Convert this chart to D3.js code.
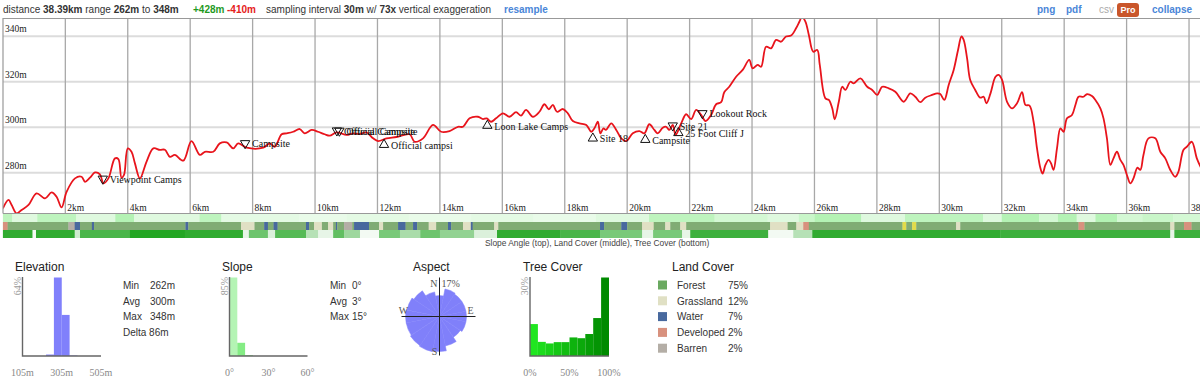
<!DOCTYPE html>
<html>
<head>
<meta charset="utf-8">
<script src="https://cdn.jsdelivr.net/npm/d3@7"></script>
<style>
body { margin: 0; background: #fff; }
svg { display: block; font-family: "Liberation Sans", Arial, Helvetica, sans-serif; }
.serif { font-family: "Liberation Serif", "Times New Roman", serif; }
</style>
</head>
<body>
<svg id="chart" width="1200" height="381"></svg>
<script>
// elevation profile (km, m)
const profileKm = [0, 0.18, 0.28, 0.44, 0.6, 0.82, 1.08, 1.35, 1.56, 1.72, 1.88, 2.04, 2.31, 2.52, 2.63, 2.79, 2.95, 3.11, 3.22, 3.38,
  3.59, 3.7, 3.8, 3.88, 4.0, 4.12, 4.23, 4.39, 4.6, 4.82, 5.03, 5.19, 5.35, 5.51, 5.78, 6.04, 6.31, 6.47, 6.74, 6.95,
  7.17, 7.38, 7.54, 7.81, 8.34, 8.55, 8.71, 8.93, 9.09, 9.3, 9.51, 9.67, 9.89, 10.1, 10.31, 10.47, 10.69, 11.01, 11.22, 11.43,
  11.65, 11.86, 12.02, 12.29, 12.61, 13.03, 13.19, 13.46, 13.78, 14.04, 14.31, 14.58, 14.74, 14.95, 15.22, 15.38, 15.5, 15.64, 15.8, 16.02,
  16.23, 16.44, 16.6, 16.76, 16.98, 17.19, 17.35, 17.49, 17.62, 17.75, 17.94, 18.1, 18.26, 18.47, 18.69, 18.85, 18.95, 19.06, 19.14, 19.24,
  19.32, 19.49, 19.65, 19.81, 19.97, 20.18, 20.39, 20.55, 20.71, 20.87, 20.98, 21.14, 21.25, 21.35, 21.46, 21.55, 21.73, 21.89, 22.05, 22.21,
  22.37, 22.51, 22.69, 22.85, 23.01, 23.11, 23.27, 23.49, 23.7, 23.91, 24.02, 24.18, 24.29, 24.45, 24.61, 24.77, 24.93, 25.09, 25.25, 25.41,
  25.52, 25.6, 25.71, 25.82, 25.96, 26.09, 26.17, 26.35, 26.46, 26.57, 26.65, 26.78, 26.89, 26.99, 27.15, 27.26, 27.47, 27.69, 27.85, 28.01,
  28.17, 28.38, 28.59, 28.86, 29.07, 29.23, 29.39, 29.55, 29.77, 29.93, 30.03, 30.16, 30.3, 30.46, 30.6, 30.71, 30.78, 30.89, 30.99, 31.15,
  31.31, 31.42, 31.51, 31.64, 31.8, 31.9, 32.01, 32.17, 32.33, 32.49, 32.65, 32.76, 32.89, 33.02, 33.13, 33.24, 33.31, 33.4, 33.5, 33.58,
  33.66, 33.77, 33.88, 33.98, 34.09, 34.25, 34.36, 34.46, 34.62, 34.73, 34.89, 35.0, 35.16, 35.26, 35.37, 35.48, 35.58, 35.69, 35.8, 35.9,
  36.01, 36.12, 36.22, 36.35, 36.44, 36.54, 36.7, 36.92, 37.08, 37.24, 37.4, 37.56, 37.66, 37.82, 37.93, 38.09, 38.25, 38.39];
const profileElev = [264.3, 268, 265.8, 262.1, 263.6, 265.8, 270.9, 268.7, 271.3, 269.4, 264.7, 271.6, 277.5, 278.2, 276, 277.8, 280.1, 279.3, 275.3, 277.5,
  286.3, 286, 277.8, 279, 290.7, 289.2, 284.1, 277.5, 284.8, 290.7, 290, 290.1, 287, 287.8, 285.3, 293.9, 287.8, 289.2, 289.2, 292.9,
  293.3, 290.7, 292.9, 291, 291, 292.9, 291.4, 296.9, 297.3, 298, 299.2, 297.3, 298.8, 298, 296.9, 296.3, 297.7, 296.6, 297.3, 297,
  297.7, 295.1, 293.9, 295.1, 295.7, 296.9, 293.6, 295.1, 301, 298, 298.3, 300.2, 300.2, 303.9, 304.6, 303.6, 303.9, 302.4, 303.9, 306.1,
  304.6, 306.6, 305.1, 307.6, 304.6, 306.8, 310.1, 307.9, 309.8, 306.8, 308, 306.1, 302.7, 301.7, 301, 298, 299.5, 302.4, 297.3, 299.5,
  298.8, 301.7, 298.8, 295.1, 293.9, 297.3, 298.3, 297.3, 301.3, 298.8, 297.3, 299.8, 300.2, 298.8, 301, 296.6, 301.7, 305.7, 303.6, 307.6,
  305.4, 302.7, 305.4, 310.1, 311, 315.4, 317.8, 322.2, 325.2, 329.6, 325.9, 327.4, 326.6, 335.4, 334.7, 338.4, 337.6, 339.9, 340.3, 343.5,
  346.5, 348.6, 346.5, 340.6, 333.2, 334, 327.4, 312.7, 312, 308.3, 303.5, 311.2, 317.8, 316.4, 320, 319.3, 321.5, 317.8, 316.4, 314.2,
  317.8, 317.1, 315.6, 311.2, 314.9, 313.4, 311, 313, 314.2, 314.9, 314.6, 312, 318.6, 325.2, 334, 339.9, 338.4, 330.3, 320.8, 316.4,
  313, 313.4, 310.5, 314.9, 322.2, 323, 320.8, 311.2, 308.3, 310.5, 315.4, 309.8, 309.5, 302.4, 290.7, 281.9, 279.6, 283.4, 285.6, 284.1,
  281.2, 290.7, 299.5, 298, 303.9, 305.4, 309.8, 313.4, 313.4, 314.5, 313.7, 312, 308.3, 303.9, 295.1, 283.4, 286.3, 289.2, 285.6, 283.4,
  279, 275.3, 277.5, 282.2, 281.2, 287.8, 295.1, 295.1, 289.2, 286.3, 281.2, 278.2, 280.4, 290, 291.4, 293.6, 286.3, 282];

// waypoints along the route
const waypointNames = ["Viewpoint Camps", "Campsite", "Official Campsite", "Official Campsite", "Official campsi", "Loon Lake Camps",
  "Site 18", "Campsite", "Site 21", "25 Foot Cliff J", "Lookout Rock"];
const waypointKm = [3.2, 7.76, 10.7, 10.78, 12.21, 15.52, 18.9, 20.58, 21.46, 21.64, 22.41];
const waypointElev = [277.3, 292.9, 298.5, 298.4, 292.3, 300.7, 295.1, 294.5, 300.7, 297.5, 306.1];
const waypointDir = ["down", "down", "down", "down", "up", "up", "up", "up", "down", "up", "down"];

// strips: [segment end km, value]
const slopeStrip = [[0.3, 5], [1.1, 2], [2.35, 5], [3.6, 2], [4.2, 6], [6.3, 2], [7.0, 5], [9.5, 1.5], [11, 1], [13, 1.5], [15, 1], [17, 1.5],
  [19, 1], [20.7, 2], [22.8, 5], [24.5, 3], [25.5, 2], [26, 4], [27.5, 6], [28.9, 2], [31.4, 5], [32, 2], [33.2, 6], [33.8, 3], [34.4, 6],
  [35, 2], [35.7, 6], [36.5, 3], [37.5, 4], [38.39, 3]];
const landStrip = [[0.15, 'D'], [2.1, 'F'], [2.3, 'B'], [2.47, 'W'], [2.85, 'F'], [2.92, 'W'], [5.85, 'F'], [5.94, 'W'], [7.63, 'F'], [8.06, 'G'],
  [8.37, 'F'], [8.49, 'W'], [8.67, 'F'], [8.8, 'W'], [9.71, 'F'], [9.81, 'W'], [9.97, 'F'], [10.22, 'G'], [10.42, 'F'], [10.58, 'G'], [10.67, 'F'],
  [10.71, 'W'], [10.93, 'F'], [11.19, 'B'], [11.25, 'F'], [11.73, 'W'], [12.05, 'F'], [12.18, 'G'], [12.66, 'F'], [12.9, 'W'], [13.14, 'F'],
  [13.27, 'W'], [13.64, 'F'], [13.88, 'G'], [14.26, 'F'], [14.36, 'W'], [14.74, 'F'], [14.99, 'G'], [15.05, 'W'], [15.74, 'F'], [15.87, 'G'],
  [19.13, 'F'], [19.26, 'W'], [19.81, 'F'], [20.0, 'W'], [20.48, 'F'], [20.85, 'G'], [21.22, 'F'], [21.38, 'G'], [21.7, 'F'], [21.89, 'G'],
  [24.58, 'F'], [25.14, 'G'], [25.42, 'F'], [25.64, 'G'], [25.82, 'D'], [28.82, 'F'], [28.94, 'S'], [29.13, 'F'], [29.26, 'S'], [30.54, 'F'],
  [30.67, 'G'], [34.46, 'F'], [34.65, 'D'], [37.4, 'F'], [37.53, 'G'], [37.84, 'F'], [38.08, 'D'], [38.39, 'F']];
const treeStrip = [[0.95, 85], [1.06, 5], [2.3, 85], [2.47, 20], [4.07, 75], [5.83, 90], [7.69, 85], [7.88, 10], [8.49, 60], [8.72, 15],
  [9.71, 70], [10.1, 30], [10.58, 10], [10.93, 65], [11.44, 40], [12.05, 5], [12.72, 55], [13.37, 35], [14.0, 60], [15.1, 45], [15.83, 15],
  [17.85, 85], [19.13, 75], [20.48, 55], [20.83, 10], [21.76, 55], [22.02, 10], [24.52, 80], [25.32, 5], [25.93, 30], [31.96, 85],
  [37.4, 80], [37.53, 10], [38.39, 80]];

// summary histograms
const elevBins = [225, 265, 305, 345, 385];
const elevPct = [1.2, 64, 33.5, 0.4];
const elevStatLabels = ["Min", "Avg", "Max"];
const elevStatValues = ["262m", "300m", "348m"];
const slopeBins = [0, 6, 12, 18];
const slopePct = [85, 14.3, 0.7];
const slopeStatLabels = ["Min", "Avg", "Max"];
const slopeStatValues = ["0°", "3°", "15°"];
const aspectDirs = ["N", "NNE", "NE", "ENE", "E", "ESE", "SE", "SSE", "S", "SSW", "SW", "WSW", "W", "WNW", "NW", "NNW"];
const aspectPct = [9.6, 12.9, 12.4, 12.4, 12.4, 12.4, 11.5, 13.8, 16.1, 16.5, 16.1, 15.6, 15.6, 15.2, 14.2, 11.5];
const treeBins = [0, 10, 20, 30, 40, 50, 60, 70, 80, 90, 100];
const treePct = [12.2, 5.4, 4.8, 5.3, 5.3, 7.1, 6.8, 8.4, 14.5, 30];
const landNames = ["Forest", "Grassland", "Water", "Developed", "Barren"];
const landPct = ["75%", "12%", "7%", "2%", "2%"];
const landKeys = ["F", "G", "W", "D", "B"];

const landColor = { F: "#6aa960", G: "#e0e0c4", W: "#48699e", D: "#d8917e", B: "#b4aea6", S: "#e2dc4a" };
const landStripColor = Object.assign({}, landColor, { F: "#80ac74" });

const svg = d3.select("#chart");

// ---------- header ----------
const head = svg.append("text").attr("x", 3).attr("y", 13).style("font-size", "10px").attr("fill", "#333");
[["distance ", 0], ["38.39km", 1], [" range ", 0], ["262m", 1], [" to ", 0], ["348m", 1]].forEach(p => {
  head.append("tspan").attr("font-weight", p[1] ? "bold" : null).text(p[0]);
});
svg.append("text").attr("x", 193).attr("y", 13).style("font-size", "10px").attr("font-weight", "bold").attr("fill", "#1f9a1f").text("+428m");
svg.append("text").attr("x", 227).attr("y", 13).style("font-size", "10px").attr("font-weight", "bold").attr("fill", "#e5201a").text("-410m");
const head2 = svg.append("text").attr("x", 266).attr("y", 13).style("font-size", "10px").attr("fill", "#333");
[["sampling interval ", 0], ["30m", 1], [" w/ ", 0], ["73x", 1], [" vertical exaggeration", 0]].forEach(p => {
  head2.append("tspan").attr("font-weight", p[1] ? "bold" : null).text(p[0]);
});
svg.append("text").attr("x", 504).attr("y", 13).style("font-size", "10px").attr("font-weight", "bold").attr("fill", "#4a86d8").text("resample");
svg.append("text").attr("x", 1037).attr("y", 13).style("font-size", "10px").attr("font-weight", "bold").attr("fill", "#4a86d8").text("png");
svg.append("text").attr("x", 1066).attr("y", 13).style("font-size", "10px").attr("font-weight", "bold").attr("fill", "#4a86d8").text("pdf");
svg.append("text").attr("x", 1099).attr("y", 13).style("font-size", "10px").attr("fill", "#aaa").text("csv");
svg.append("rect").attr("x", 1117).attr("y", 3).attr("width", 22).attr("height", 14).attr("rx", 3).attr("fill", "#c9562b");
svg.append("text").attr("x", 1128).attr("y", 13).attr("text-anchor", "middle").style("font-size", "9px").attr("font-weight", "bold").attr("fill", "#fff").text("Pro");
svg.append("text").attr("x", 1152).attr("y", 13).style("font-size", "10px").attr("font-weight", "bold").attr("fill", "#4a86d8").text("collapse");

// ---------- profile ----------
const plotTop = 18.5, plotBottom = 213.5;
const x = d3.scaleLinear().domain([0, 38.39]).range([2.9, 1201.2]);
const y = d3.scaleLinear().domain([262, 348]).range([213.6, 18.1]);

svg.append("clipPath").attr("id", "plot").append("rect")
  .attr("x", 3).attr("y", plotTop).attr("width", 1198).attr("height", plotBottom - plotTop);

const grid = svg.append("g");
grid.selectAll(".hg").data(y.ticks(5)).join("line")
  .attr("x1", 3).attr("x2", 1200).attr("y1", d => y(d)).attr("y2", d => y(d))
  .attr("stroke", "#dcdcdc").attr("stroke-width", 2);
grid.selectAll(".vg").data(x.ticks(20).filter(d => d > 0)).join("line")
  .attr("x1", d => x(d)).attr("x2", d => x(d)).attr("y1", plotTop).attr("y2", plotBottom)
  .attr("stroke", "#a8a8a8").attr("stroke-width", 1.3);

svg.append("g").attr("class", "serif").selectAll("text").data(y.ticks(5)).join("text")
  .attr("x", 5).attr("y", d => y(d) - 4).style("font-size", "9.5px").attr("fill", "#222")
  .text(d => d + "m");
svg.append("g").attr("class", "serif").selectAll("text").data(x.ticks(20).filter(d => d > 0)).join("text")
  .attr("x", d => x(d) + 2).attr("y", 210.5).style("font-size", "9.5px").attr("fill", "#222")
  .text(d => d + "km");

const line = d3.line()
  .x(i => x(profileKm[i]))
  .y(i => y(profileElev[i]))
  .curve(d3.curveCatmullRom);
svg.append("path")
  .datum(d3.range(profileKm.length))
  .attr("clip-path", "url(#plot)")
  .attr("d", line)
  .attr("fill", "none").attr("stroke", "#e8141c").attr("stroke-width", 1.8);

// waypoints
const wp = svg.append("g").attr("class", "serif");
const tri = d3.symbol(d3.symbolTriangle, 38);
waypointNames.forEach((name, i) => {
  const px = x(waypointKm[i]), py = y(waypointElev[i]);
  wp.append("path").attr("d", tri())
    .attr("transform", `translate(${px},${py}) rotate(${waypointDir[i] === "down" ? 180 : 0})`)
    .attr("fill", "none").attr("stroke", "#111").attr("stroke-width", 1);
  wp.append("text").attr("x", px + 7).attr("y", py + 4).style("font-size", "10px").attr("fill", "#111").text(name);
});

// frame
svg.append("path").attr("d", `M3,${plotBottom}V${plotTop}H1200`).attr("fill", "none").attr("stroke", "#999").attr("stroke-width", 1.2);
svg.append("line").attr("x1", 3).attr("x2", 1200).attr("y1", plotBottom).attr("y2", plotBottom).attr("stroke", "#999");

// ---------- strips ----------
const slopeColor = d3.scaleLinear().domain([0, 14]).range(["#f4fdf4", "#5ee45e"]).clamp(true);
const treeColor = d3.scaleLinear().domain([0, 100]).range(["#ffffff", "#0c9c0c"]);
function drawStrip(data, y0, h, color) {
  svg.append("g").selectAll("rect").data(data).join("rect")
    .attr("x", (d, i) => x(i ? data[i - 1][0] : 0))
    .attr("width", (d, i) => x(d[0]) - x(i ? data[i - 1][0] : 0) + 0.3)
    .attr("y", y0).attr("height", h)
    .attr("fill", d => color(d[1]));
}
drawStrip(slopeStrip, 214, 8, slopeColor);
drawStrip(landStrip, 222, 8, d => landStripColor[d]);
drawStrip(treeStrip, 230, 8, treeColor);
svg.append("text").attr("x", 485).attr("y", 245.5).style("font-size", "8.4px").attr("fill", "#444")
  .text("Slope Angle (top), Land Cover (middle), Tree Cover (bottom)");

// ---------- summary panels ----------
function title(xp, t) {
  svg.append("text").attr("x", xp).attr("y", 271).style("font-size", "12px").attr("fill", "#222").text(t);
}
function histogram(x0, x1, domain, bins, pct, maxPct, color, ticks, fmt, pctLabel) {
  const hx = d3.scaleLinear().domain(domain).range([x0, x1]);
  const hy = d3.scaleLinear().domain([0, maxPct]).range([356, 277.5]);
  const g = svg.append("g");
  g.selectAll("rect").data(pct).join("rect")
    .attr("x", (d, i) => hx(bins[i]))
    .attr("width", (d, i) => hx(bins[i + 1]) - hx(bins[i]))
    .attr("y", d => hy(d)).attr("height", d => 356 - hy(d))
    .attr("fill", (d, i) => color(i));
  g.append("path").attr("d", `M${x0},277V356H${x1}`).attr("fill", "none").attr("stroke", "#666").attr("stroke-width", 1.4);
  g.selectAll(".tk").data(ticks).join("text").attr("class", "serif")
    .attr("x", d => hx(d)).attr("y", 376).attr("text-anchor", "middle")
    .style("font-size", "10px").attr("fill", "#888").text(fmt);
  g.append("text").attr("class", "serif")
    .attr("transform", `translate(${x0 - 2},277) rotate(-90)`).attr("text-anchor", "end")
    .style("font-size", "10px").attr("fill", "#999").text(pctLabel);
}
function stats(xl, xv, labels, values) {
  labels.forEach((l, i) => {
    svg.append("text").attr("x", xl).attr("y", 289 + i * 15.7).style("font-size", "10px").attr("fill", "#333").text(l);
    svg.append("text").attr("x", xv).attr("y", 289 + i * 15.7).style("font-size", "10px").attr("fill", "#333").text(values[i]);
  });
}

// elevation
title(15, "Elevation");
histogram(22.5, 101, [105, 505], elevBins, elevPct, 64, () => "#8080fb", [105, 305, 505], d => d + "m", "64%");
stats(123, 150, elevStatLabels, elevStatValues);
svg.append("text").attr("x", 123).attr("y", 289 + 3 * 15.7).style("font-size", "10px").attr("fill", "#333").text("Delta 86m");

// slope
title(222, "Slope");
const slopeCols = ["#b4f4b4", "#84ec84", "#55dd55"];
histogram(229.5, 307.5, [0, 60], slopeBins, slopePct, 85, i => slopeCols[i], [0, 30, 60], d => d + "°", "85%");
stats(330, 352, slopeStatLabels, slopeStatValues);

// aspect rose
title(413, "Aspect");
const roseX = 439.5, roseY = 316.5;
const rr = d3.scaleLinear().domain([0, 17]).range([0, 37]);
const arc = d3.arc().innerRadius(0);
const rose = svg.append("g").attr("transform", `translate(${roseX},${roseY})`);
rose.selectAll("path").data(aspectPct).join("path")
  .attr("d", (d, i) => arc({ outerRadius: rr(d), startAngle: (i - 0.5) * Math.PI / 8, endAngle: (i + 0.5) * Math.PI / 8 }))
  .attr("fill", "#8080fa").attr("stroke", "#8080fa").attr("stroke-width", 0.5);
rose.append("line").attr("x1", -38).attr("x2", 36).attr("y1", 0).attr("y2", 0).attr("stroke", "#222");
rose.append("line").attr("x1", 0).attr("x2", 0).attr("y1", -39).attr("y2", 39).attr("stroke", "#222");
const rl = rose.append("g").attr("class", "serif").style("font-size", "10px").attr("fill", "#555");
rl.append("text").attr("x", -2).attr("y", -30).attr("text-anchor", "end").text("N");
rl.append("text").attr("x", 2).attr("y", -30).text("17%");
rl.append("text").attr("x", -36).attr("y", -3).attr("text-anchor", "middle").text("W");
rl.append("text").attr("x", 31).attr("y", -3).attr("text-anchor", "middle").text("E");
rl.append("text").attr("x", -5).attr("y", 38).attr("text-anchor", "middle").text("S");

// tree cover
title(523, "Tree Cover");
const treeCols = d3.scaleLinear().domain([0, 9]).range(["#20e620", "#008a00"]);
histogram(530, 609, [0, 100], treeBins, treePct, 30, i => treeCols(i), [0, 50, 100], d => d + "%", "30%");

// land cover legend
title(672, "Land Cover");
landNames.forEach((n, i) => {
  const yy = 285 + i * 15.8;
  svg.append("rect").attr("x", 658).attr("y", yy - 4.5).attr("width", 9).attr("height", 9).attr("fill", landColor[landKeys[i]]);
  svg.append("text").attr("x", 677).attr("y", yy + 3.7).style("font-size", "10px").attr("fill", "#333").text(n);
  svg.append("text").attr("x", 728).attr("y", yy + 3.7).style("font-size", "10px").attr("fill", "#333").text(landPct[i]);
});
</script>
</body>
</html>
